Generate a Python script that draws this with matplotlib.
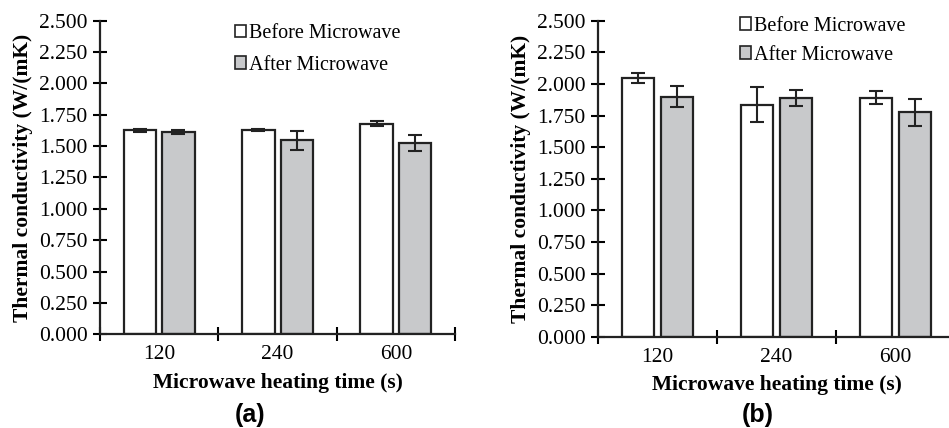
#!/usr/bin/env python3

import numpy as np
import matplotlib
matplotlib.use('Agg')
import matplotlib.pyplot as plt
from matplotlib.patches import Patch

categories = ['120', '240', '600']

before_a = [1.625, 1.630, 1.680]
before_a_err = [0.015, 0.010, 0.020]
after_a = [1.610, 1.545, 1.522]
after_a_err = [0.015, 0.072, 0.064]

before_b = [2.045, 1.835, 1.890]
before_b_err = [0.040, 0.140, 0.050]
after_b = [1.900, 1.885, 1.775]
after_b_err = [0.085, 0.063, 0.105]

yticks = [0.0, 0.25, 0.5, 0.75, 1.0, 1.25, 1.5, 1.75, 2.0, 2.25, 2.5]

GRAY = '#c8c9cb'
SERIF = 'Liberation Serif'


def draw_panel(ax, before, before_err, after, after_err, leg_anchor,
               leg_spacing):
    x = np.arange(len(categories))
    w = 0.275
    off = 0.163
    ekw = dict(ecolor='#222222', elinewidth=1.5, capthick=1.5)
    ax.bar(x - off, before, w, color='white', edgecolor='#222222',
           linewidth=1.6, yerr=before_err, capsize=5, error_kw=ekw, zorder=2)
    ax.bar(x + off, after, w, color=GRAY, edgecolor='#222222',
           linewidth=1.6, yerr=after_err, capsize=5, error_kw=ekw, zorder=2)

    ax.set_xlim(-0.5, len(categories) - 0.5)
    ax.set_ylim(0, 2.5)
    ax.set_yticks(yticks)
    ax.set_yticklabels(['%.3f' % v for v in yticks],
                       fontfamily=SERIF, fontsize=15.5)
    ax.set_xticks(x)
    ax.set_xticklabels(categories, fontfamily=SERIF, fontsize=15.5)
    ax.set_xticks(np.arange(-0.5, len(categories)), minor=True)
    ax.tick_params(axis='x', which='major', length=0, pad=8)
    ax.tick_params(axis='x', which='minor', direction='inout', length=10,
                   width=1.5)
    ax.tick_params(axis='y', direction='inout', length=10, width=1.5, pad=4)

    for s in ['top', 'right']:
        ax.spines[s].set_visible(False)
    for s in ['left', 'bottom']:
        ax.spines[s].set_linewidth(1.6)
        ax.spines[s].set_color('#222222')

    ax.set_xlabel('Microwave heating time (s)', fontfamily=SERIF,
                  fontsize=15.5, fontweight='bold', labelpad=6)
    ax.set_ylabel('Thermal conductivity (W/(mK)', fontfamily=SERIF,
                  fontsize=15.5, fontweight='bold', labelpad=4)

    handles = [Patch(facecolor='white', edgecolor='#222222', linewidth=1.2),
               Patch(facecolor=GRAY, edgecolor='#222222', linewidth=1.2)]
    ax.legend(handles, ['Before Microwave', 'After Microwave'],
              loc='upper left', bbox_to_anchor=leg_anchor, frameon=False,
              borderaxespad=0, borderpad=0,
              prop={'family': SERIF, 'size': 14.5}, handlelength=0.55,
              handleheight=0.55, handletextpad=0.15, labelspacing=leg_spacing)


def main():
    fig = plt.figure(figsize=(9.49, 4.28), dpi=100)

    ax_a = fig.add_axes([0.1054, 0.2190, 0.3741, 0.7326])
    draw_panel(ax_a, before_a, before_a_err, after_a, after_a_err,
               (0.38, 0.988), 0.6)

    ax_b = fig.add_axes([0.6301, 0.2133, 0.3762, 0.7383])
    draw_panel(ax_b, before_b, before_b_err, after_b, after_b_err,
               (0.398, 1.013), 0.5)

    fig.text(0.264, 0.03, '(a)', fontfamily='Liberation Sans',
             fontsize=18, fontweight='bold', ha='center', va='center')
    fig.text(0.798, 0.03, '(b)', fontfamily='Liberation Sans',
             fontsize=18, fontweight='bold', ha='center', va='center')

    fig.savefig('out.png', dpi=100)


if __name__ == "__main__":
    main()
